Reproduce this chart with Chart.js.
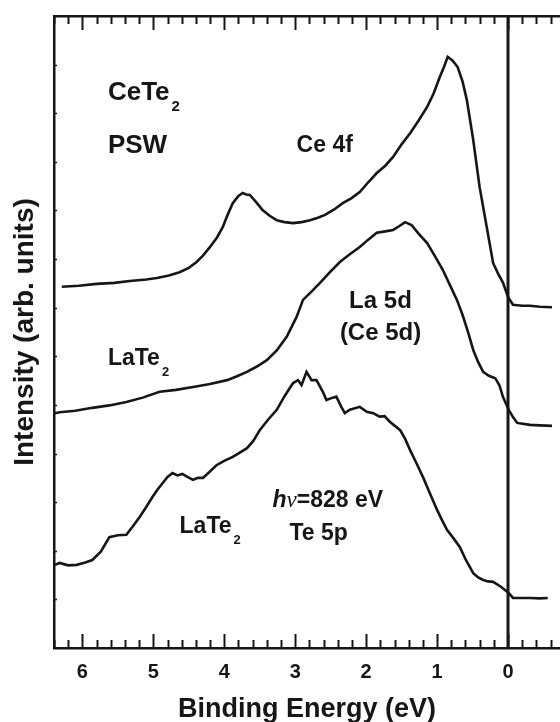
<!DOCTYPE html>
<html>
<head>
<meta charset="utf-8">
<script src="https://cdn.jsdelivr.net/npm/chart.js@4/dist/chart.umd.min.js"></script>
<style>
  html, body { margin: 0; padding: 0; background: #fff; overflow: hidden; }
  #wrap { width: 560px; height: 722px; }
</style>
</head>
<body>
<div id="wrap"><canvas id="c" width="560" height="722"></canvas></div>
<script>
// ---- Data (binding energy in eV, intensity in arbitrary units) ----
const ce4fEnergy = [6.29, 6.05, 5.80, 5.55, 5.33, 5.10, 4.95, 4.78, 4.63, 4.50, 4.39, 4.30, 4.20, 4.10, 4.02, 3.95, 3.88, 3.80, 3.74, 3.69, 3.64, 3.55, 3.46, 3.36, 3.26, 3.15, 3.03, 2.91, 2.79, 2.68, 2.58, 2.45, 2.33, 2.21, 2.09, 1.97, 1.85, 1.73, 1.62, 1.50, 1.38, 1.26, 1.14, 1.05, 0.96, 0.90, 0.85, 0.78, 0.71, 0.64, 0.58, 0.49, 0.40, 0.30, 0.21, 0.14, 0.07, 0.00, -0.07, -0.20, -0.31, -0.45, -0.62];
const ce4fIntensity = [7.43, 7.45, 7.49, 7.51, 7.55, 7.58, 7.61, 7.66, 7.73, 7.82, 7.94, 8.07, 8.25, 8.45, 8.66, 8.92, 9.15, 9.30, 9.36, 9.33, 9.32, 9.17, 9.01, 8.89, 8.80, 8.76, 8.74, 8.76, 8.80, 8.85, 8.91, 9.02, 9.15, 9.25, 9.38, 9.58, 9.77, 9.92, 10.10, 10.36, 10.59, 10.85, 11.13, 11.40, 11.75, 11.96, 12.16, 12.08, 11.95, 11.65, 11.27, 10.45, 9.48, 8.66, 7.92, 7.70, 7.51, 7.22, 7.06, 7.04, 7.04, 7.02, 7.01];

const la5dEnergy = [6.39, 6.32, 6.10, 5.86, 5.62, 5.38, 5.15, 4.91, 4.68, 4.44, 4.20, 3.96, 3.82, 3.68, 3.54, 3.40, 3.26, 3.12, 2.98, 2.89, 2.77, 2.65, 2.51, 2.37, 2.23, 2.09, 1.97, 1.85, 1.73, 1.62, 1.53, 1.45, 1.36, 1.27, 1.14, 1.03, 0.92, 0.82, 0.72, 0.64, 0.56, 0.49, 0.42, 0.35, 0.27, 0.18, 0.12, 0.07, 0.02, -0.01, -0.07, -0.13, -0.31, -0.45, -0.62];
const la5dIntensity = [4.83, 4.85, 4.88, 4.94, 4.99, 5.06, 5.15, 5.27, 5.31, 5.37, 5.43, 5.51, 5.59, 5.68, 5.79, 5.92, 6.12, 6.40, 6.81, 7.16, 7.33, 7.51, 7.73, 7.94, 8.10, 8.25, 8.40, 8.54, 8.57, 8.60, 8.68, 8.76, 8.70, 8.54, 8.33, 8.06, 7.78, 7.47, 7.16, 6.85, 6.48, 6.13, 5.88, 5.68, 5.60, 5.55, 5.40, 5.16, 5.00, 4.90, 4.75, 4.63, 4.59, 4.58, 4.57];

const te5pEnergy = [6.39, 6.32, 6.20, 6.08, 5.96, 5.86, 5.74, 5.62, 5.50, 5.38, 5.28, 5.19, 5.10, 5.01, 4.94, 4.87, 4.80, 4.73, 4.66, 4.59, 4.52, 4.44, 4.37, 4.30, 4.21, 4.11, 4.00, 3.88, 3.78, 3.68, 3.59, 3.50, 3.38, 3.26, 3.15, 3.03, 2.96, 2.91, 2.84, 2.77, 2.70, 2.61, 2.56, 2.49, 2.42, 2.35, 2.30, 2.23, 2.09, 1.99, 1.90, 1.81, 1.74, 1.67, 1.52, 1.45, 1.38, 1.29, 1.20, 1.10, 1.00, 0.93, 0.86, 0.77, 0.68, 0.59, 0.49, 0.42, 0.35, 0.28, 0.21, 0.10, -0.01, -0.07, -0.20, -0.31, -0.45, -0.56];
const te5pIntensity = [1.71, 1.75, 1.70, 1.71, 1.76, 1.81, 1.98, 2.28, 2.32, 2.33, 2.52, 2.70, 2.90, 3.11, 3.26, 3.39, 3.52, 3.60, 3.55, 3.58, 3.52, 3.46, 3.50, 3.50, 3.62, 3.76, 3.85, 3.93, 4.02, 4.11, 4.26, 4.48, 4.70, 4.90, 5.18, 5.45, 5.51, 5.41, 5.68, 5.51, 5.51, 5.27, 5.10, 5.14, 5.17, 4.96, 4.83, 4.90, 4.96, 4.86, 4.83, 4.76, 4.77, 4.66, 4.48, 4.30, 4.07, 3.80, 3.52, 3.18, 2.84, 2.63, 2.43, 2.26, 2.08, 1.80, 1.54, 1.45, 1.40, 1.37, 1.36, 1.26, 1.13, 1.03, 1.03, 1.03, 1.02, 1.03];

const fermiEnergy = [0, 0];
const fermiIntensity = [0, 13];

const xTickLabels = [6, 5, 4, 3, 2, 1, 0];
const yTickValues = [1, 2, 3, 4, 5, 6, 7, 8, 9, 10, 11, 12];

const xMin = -0.733, xMax = 6.40, yMin = 0, yMax = 13;

function pts(xs, ys) { return xs.map((x, i) => ({ x: x, y: ys[i] })); }

const INK = '#161616';
const FONT = '"Liberation Sans", Arial, Helvetica, sans-serif';

function lineDs(xs, ys, w) {
  return { data: pts(xs, ys), borderColor: INK, borderWidth: w, pointRadius: 0, showLine: true, tension: 0, fill: false };
}

const framePlugin = {
  id: 'frame',
  afterDatasetsDraw(chart) {
    const ctx = chart.ctx, xs = chart.scales.x, ys = chart.scales.y, a = chart.chartArea;
    ctx.save();
    ctx.strokeStyle = INK;
    ctx.lineCap = 'butt';
    // x ticks (bottom and top, pointing inward)
    for (let i = -3; i <= 32; i++) {
      const v = i * 0.2;
      const major = (i % 5 === 0);
      const px = Math.round(xs.getPixelForValue(v)) + 0.5;
      const len = major ? 14 : 8;
      ctx.lineWidth = 2;
      ctx.beginPath();
      ctx.moveTo(px, a.bottom); ctx.lineTo(px, a.bottom - len);
      ctx.moveTo(px, a.top); ctx.lineTo(px, a.top + len);
      ctx.stroke();
    }
    // y ticks (left, small, inward)
    ctx.lineWidth = 1.5;
    yTickValues.forEach(v => {
      const py = Math.round(ys.getPixelForValue(v)) + 0.5;
      ctx.beginPath();
      ctx.moveTo(a.left, py); ctx.lineTo(a.left + 3, py);
      ctx.stroke();
    });

    // annotations (placed in data coordinates)
    ctx.fillStyle = INK;
    ctx.textBaseline = 'alphabetic';
    ctx.textAlign = 'left';
    const P = (e, i) => [xs.getPixelForValue(e), ys.getPixelForValue(i)];
    function sub(text, sz, subTxt, e, i) {
      const [x, y] = P(e, i);
      ctx.font = 'bold ' + sz + 'px ' + FONT;
      ctx.fillText(text, x, y);
      const w = ctx.measureText(text).width;
      ctx.font = 'bold ' + Math.round(sz * 0.58) + 'px ' + FONT;
      ctx.fillText(subTxt, x + w + 2, y + 11);
    }
    function txt(text, sz, e, i) {
      const [x, y] = P(e, i);
      ctx.font = 'bold ' + sz + 'px ' + FONT;
      ctx.fillText(text, x, y);
    }
    sub('CeTe', 26, '2', 5.64, 11.27);
    txt('PSW', 26, 5.64, 10.19);
    txt('Ce 4f', 23, 2.98, 10.20);
    txt('La 5d', 24, 2.24, 7.00);
    txt('(Ce 5d)', 24, 2.37, 6.34);
    sub('LaTe', 23, '2', 5.64, 5.82);
    sub('LaTe', 23, '2', 4.63, 2.37);
    txt('Te 5p', 23, 3.08, 2.22);
    // h nu = 828 eV
    {
      let [x, y] = P(3.32, 2.90);
      ctx.font = 'italic bold 23px ' + FONT;
      ctx.fillText('h', x, y); x += ctx.measureText('h').width;
      ctx.font = 'italic 23px "Liberation Serif", "Times New Roman", serif';
      ctx.fillText('\u03BD', x, y); x += ctx.measureText('\u03BD').width;
      ctx.font = 'bold 23px ' + FONT;
      ctx.fillText('=828 eV', x, y);
    }
    ctx.restore();
  }
};

new Chart(document.getElementById('c'), {
  type: 'scatter',
  data: {
    datasets: [
      lineDs(ce4fEnergy, ce4fIntensity, 2.6),
      lineDs(la5dEnergy, la5dIntensity, 2.6),
      lineDs(te5pEnergy, te5pIntensity, 2.6),
      lineDs(fermiEnergy, fermiIntensity, 3)
    ]
  },
  options: {
    responsive: false,
    animation: false,
    devicePixelRatio: 1,
    layout: { padding: { top: 16, right: 0, bottom: 0, left: 0 } },
    plugins: { legend: { display: false }, tooltip: { enabled: false } },
    events: [],
    scales: {
      x: {
        type: 'linear', position: 'bottom', reverse: true, min: xMin, max: xMax,
        afterBuildTicks: s => { s.ticks = xTickLabels.map(v => ({ value: v })); },
        afterFit: s => { s.height = 74; },
        grid: { display: false, drawTicks: false },
        border: { display: true, color: INK, width: 2.5 },
        ticks: { autoSkip: false, maxRotation: 0, padding: 12, color: INK,
                 font: { family: FONT, size: 20, weight: 'bold' } },
        title: { display: true, text: 'Binding Energy (eV)', color: INK, padding: { top: 0, bottom: 0 },
                 font: { family: FONT, size: 27, weight: 'bold', lineHeight: 0.9 } }
      },
      x2: {
        type: 'linear', position: 'top', reverse: true, min: xMin, max: xMax,
        afterFit: s => { s.height = 0; },
        grid: { display: false, drawTicks: false },
        border: { display: true, color: INK, width: 2.5 },
        ticks: { display: false }
      },
      y: {
        type: 'linear', position: 'left', min: yMin, max: yMax,
        afterFit: s => { s.width = 54; },
        grid: { display: false, drawTicks: false },
        border: { display: true, color: INK, width: 2.5 },
        ticks: { display: false },
        title: { display: true, text: 'Intensity (arb. units)', color: INK, padding: { top: 13, bottom: 0 },
                 font: { family: FONT, size: 28, weight: 'bold', lineHeight: 0.9 } }
      }
    }
  },
  plugins: [framePlugin]
});
</script>
</body>
</html>
